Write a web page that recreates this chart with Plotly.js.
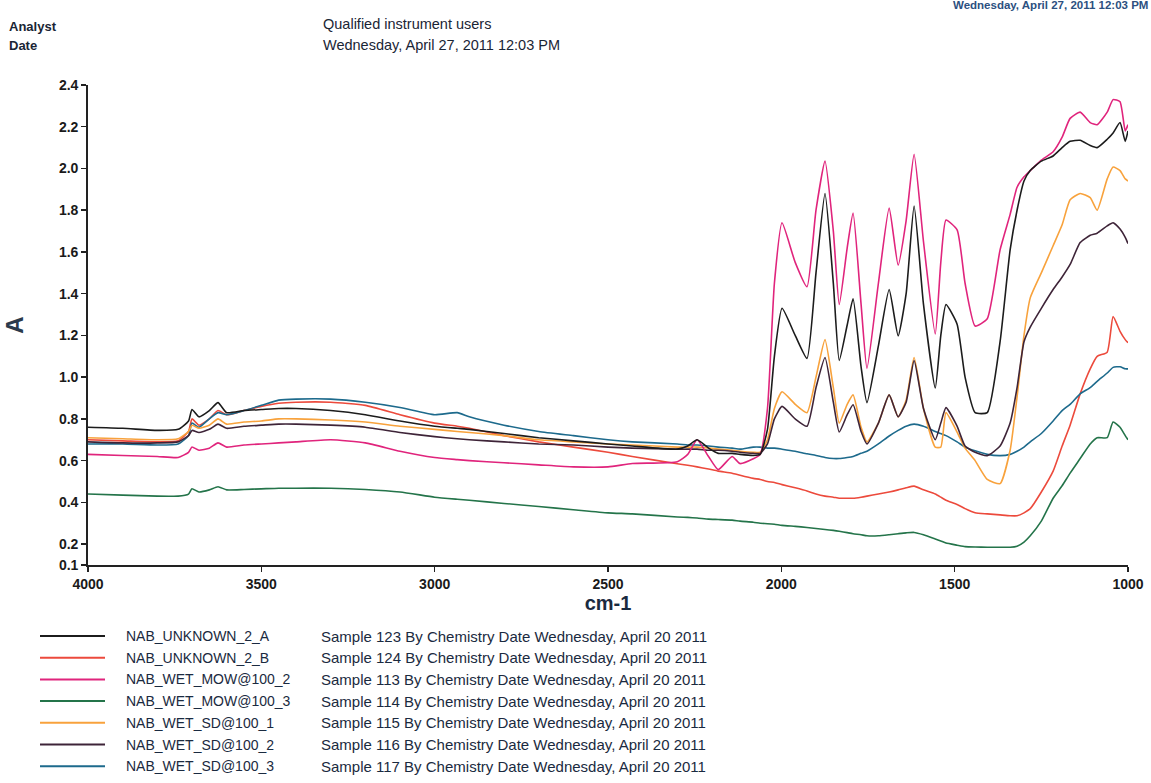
<!DOCTYPE html>
<html>
<head>
<meta charset="utf-8">
<script src="https://cdn.plot.ly/plotly-3.0.1.min.js"></script>
<style>
  html, body { margin: 0; padding: 0; background: #ffffff; }
  #chart { width: 1151px; height: 783px; }
</style>
</head>
<body>
<div id="chart"></div>
<script>
// ---- data ----
const wavenumber = [4000, 3900, 3800, 3740, 3710, 3700, 3680, 3650, 3625, 3600,
  3550, 3500, 3450, 3400, 3300, 3200, 3100, 3000, 2935, 2900,
  2800, 2700, 2600, 2500, 2430, 2300, 2270, 2243, 2210, 2182,
  2142, 2119, 2081, 2061, 2040, 2020, 1998, 1960, 1926, 1900,
  1874, 1850, 1833, 1810, 1793, 1770, 1753, 1720, 1689, 1663,
  1640, 1617, 1590, 1556, 1540, 1525, 1493, 1470, 1441, 1406,
  1369, 1340, 1320, 1300, 1282, 1250, 1216, 1190, 1167, 1138,
  1109, 1089, 1060, 1043, 1023, 1008, 1000];

const unknownA = [0.76, 0.755, 0.745, 0.75, 0.79, 0.845, 0.81, 0.84, 0.878, 0.83,
  0.84, 0.845, 0.85, 0.85, 0.84, 0.82, 0.79, 0.765, 0.755, 0.75,
  0.73, 0.71, 0.695, 0.68, 0.67, 0.655, 0.67, 0.70, 0.66, 0.635,
  0.635, 0.63, 0.625, 0.63, 0.75, 1.10, 1.33, 1.20, 1.09, 1.50,
  1.88, 1.45, 1.08, 1.25, 1.376, 1.05, 0.878, 1.15, 1.42, 1.198,
  1.40, 1.82, 1.35, 0.948, 1.20, 1.348, 1.254, 1.00, 0.83, 0.83,
  1.17, 1.61, 1.80, 1.94, 1.99, 2.035, 2.06, 2.10, 2.13, 2.135,
  2.11, 2.10, 2.14, 2.17, 2.22, 2.13, 2.18];

const unknownB = [0.70, 0.695, 0.69, 0.695, 0.74, 0.80, 0.77, 0.80, 0.84, 0.82,
  0.84, 0.86, 0.875, 0.88, 0.88, 0.865, 0.82, 0.78, 0.765, 0.755,
  0.72, 0.69, 0.665, 0.64, 0.62, 0.585, 0.578, 0.57, 0.56, 0.55,
  0.54, 0.53, 0.515, 0.51, 0.50, 0.495, 0.485, 0.47, 0.455, 0.44,
  0.43, 0.425, 0.42, 0.42, 0.42, 0.425, 0.43, 0.44, 0.45, 0.46,
  0.47, 0.478, 0.46, 0.44, 0.425, 0.41, 0.39, 0.37, 0.35, 0.345,
  0.34, 0.336, 0.336, 0.35, 0.37, 0.45, 0.55, 0.67, 0.77, 0.92,
  1.04, 1.10, 1.12, 1.29, 1.22, 1.18, 1.165];

const wetMow2 = [0.63, 0.625, 0.62, 0.615, 0.64, 0.665, 0.65, 0.66, 0.685, 0.665,
  0.675, 0.68, 0.685, 0.69, 0.70, 0.685, 0.645, 0.615, 0.605, 0.60,
  0.59, 0.58, 0.57, 0.57, 0.586, 0.595, 0.63, 0.70, 0.62, 0.557,
  0.62, 0.586, 0.609, 0.63, 0.85, 1.45, 1.74, 1.55, 1.433, 1.80,
  2.035, 1.70, 1.348, 1.62, 1.786, 1.35, 1.042, 1.45, 1.81, 1.536,
  1.75, 2.068, 1.65, 1.207, 1.55, 1.753, 1.706, 1.45, 1.245, 1.28,
  1.61, 1.78, 1.91, 1.96, 1.99, 2.04, 2.08, 2.15, 2.24, 2.27,
  2.22, 2.21, 2.27, 2.33, 2.32, 2.18, 2.21];

const wetMow3 = [0.44, 0.435, 0.43, 0.43, 0.44, 0.465, 0.45, 0.46, 0.475, 0.46,
  0.462, 0.465, 0.468, 0.468, 0.468, 0.462, 0.45, 0.425, 0.415, 0.41,
  0.395, 0.38, 0.365, 0.35, 0.345, 0.33, 0.328, 0.325, 0.32, 0.318,
  0.315, 0.31, 0.305, 0.30, 0.298, 0.295, 0.29, 0.285, 0.28, 0.275,
  0.27, 0.266, 0.262, 0.255, 0.25, 0.245, 0.24, 0.24, 0.245, 0.25,
  0.254, 0.256, 0.245, 0.225, 0.215, 0.205, 0.195, 0.188, 0.186, 0.185,
  0.185, 0.185, 0.19, 0.21, 0.24, 0.31, 0.42, 0.48, 0.54, 0.61,
  0.68, 0.71, 0.71, 0.785, 0.76, 0.72, 0.70];

const wetSd1 = [0.71, 0.705, 0.70, 0.705, 0.74, 0.77, 0.755, 0.77, 0.80, 0.775,
  0.785, 0.79, 0.80, 0.80, 0.795, 0.785, 0.765, 0.75, 0.74, 0.735,
  0.72, 0.70, 0.69, 0.68, 0.675, 0.665, 0.665, 0.665, 0.66, 0.655,
  0.65, 0.645, 0.64, 0.64, 0.70, 0.85, 0.93, 0.87, 0.83, 1.00,
  1.18, 0.95, 0.78, 0.87, 0.915, 0.76, 0.69, 0.78, 0.915, 0.81,
  0.89, 1.094, 0.85, 0.665, 0.665, 0.83, 0.737, 0.66, 0.60, 0.51,
  0.49, 0.65, 0.906, 1.20, 1.38, 1.50, 1.63, 1.73, 1.85, 1.88,
  1.86, 1.80, 1.95, 2.007, 1.99, 1.95, 1.94];

const wetSd2 = [0.69, 0.685, 0.685, 0.69, 0.72, 0.745, 0.735, 0.75, 0.775, 0.755,
  0.765, 0.77, 0.775, 0.775, 0.77, 0.76, 0.735, 0.715, 0.705, 0.70,
  0.69, 0.68, 0.675, 0.665, 0.66, 0.655, 0.655, 0.655, 0.65, 0.65,
  0.645, 0.64, 0.635, 0.635, 0.68, 0.80, 0.86, 0.80, 0.765, 0.95,
  1.094, 0.88, 0.737, 0.82, 0.868, 0.74, 0.68, 0.78, 0.915, 0.81,
  0.88, 1.08, 0.85, 0.70, 0.78, 0.854, 0.765, 0.67, 0.64, 0.624,
  0.67, 0.78, 0.95, 1.17, 1.24, 1.33, 1.42, 1.48, 1.54, 1.645,
  1.68, 1.69, 1.725, 1.74, 1.71, 1.67, 1.64];

const wetSd3 = [0.68, 0.68, 0.675, 0.68, 0.72, 0.78, 0.76, 0.80, 0.83, 0.82,
  0.84, 0.865, 0.89, 0.895, 0.895, 0.88, 0.855, 0.82, 0.83, 0.81,
  0.77, 0.74, 0.72, 0.70, 0.69, 0.68, 0.675, 0.675, 0.67, 0.665,
  0.66, 0.655, 0.665, 0.665, 0.66, 0.66, 0.655, 0.645, 0.633, 0.625,
  0.615, 0.61, 0.61, 0.615, 0.62, 0.635, 0.645, 0.68, 0.718, 0.745,
  0.765, 0.775, 0.765, 0.74, 0.73, 0.72, 0.69, 0.665, 0.647, 0.63,
  0.624, 0.63, 0.645, 0.665, 0.69, 0.73, 0.79, 0.84, 0.87, 0.92,
  0.95, 0.98, 1.02, 1.047, 1.05, 1.04, 1.04];

const seriesNames = ["NAB_UNKNOWN_2_A", "NAB_UNKNOWN_2_B", "NAB_WET_MOW@100_2",
  "NAB_WET_MOW@100_3", "NAB_WET_SD@100_1", "NAB_WET_SD@100_2", "NAB_WET_SD@100_3"];
const sampleNumbers = [123, 124, 113, 114, 115, 116, 117];
const seriesValues = [unknownA, unknownB, wetMow2, wetMow3, wetSd1, wetSd2, wetSd3];
const seriesColors = ["#1c1c1c", "#ec4a3c", "#e0247c", "#24744a", "#f8a23c", "#3e2438", "#1d6a8c"];
const drawOrder = [3, 1, 6, 4, 5, 2, 0];

const yTickVals = [0.1, 0.2, 0.4, 0.6, 0.8, 1.0, 1.2, 1.4, 1.6, 1.8, 2.0, 2.2, 2.4];
const yTickText = ["0.1", "0.2", "0.4", "0.6", "0.8", "1.0", "1.2", "1.4", "1.6", "1.8", "2.0", "2.2", "2.4"];
const xTickVals = [4000, 3500, 3000, 2500, 2000, 1500, 1000];

// ---- geometry helpers (page pixels -> paper coords) ----
const W = 1151, H = 783;
const M = { l: 88, r: 23, t: 85, b: 218 };
const PW = W - M.l - M.r, PH = H - M.t - M.b;
const px = x => (x - M.l) / PW;
const py = y => (H - M.b - y) / PH;

const sans = "Liberation Sans, Arial, sans-serif";

const traces = drawOrder.map(i => ({
  type: "scatter",
  mode: "lines",
  x: wavenumber,
  y: seriesValues[i],
  name: seriesNames[i],
  line: { color: seriesColors[i], width: 1.6, shape: "spline", smoothing: 0.5 },
  hoverinfo: "skip"
}));

const shapes = [];
const annotations = [];
seriesNames.forEach((nm, i) => {
  const yy = 636 + i * 21.7;
  shapes.push({ type: "line", xref: "paper", yref: "paper",
    x0: px(40), x1: px(105), y0: py(yy), y1: py(yy),
    line: { color: seriesColors[i], width: 2 } });
  annotations.push({ xref: "paper", yref: "paper", x: px(124), y: py(yy),
    xanchor: "left", yanchor: "middle", showarrow: false, text: nm,
    font: { family: sans, size: 14, color: "#1a2a40" } });
  annotations.push({ xref: "paper", yref: "paper", x: px(319), y: py(yy),
    xanchor: "left", yanchor: "middle", showarrow: false,
    text: "Sample " + sampleNumbers[i] + " By Chemistry Date Wednesday, April 20 2011",
    font: { family: sans, size: 15, color: "#1a2a40" } });
});

const header = [
  { x: 7, y: 27, text: "<b>Analyst</b>", size: 13, color: "#1a2535" },
  { x: 7, y: 45, text: "<b>Date</b>", size: 13, color: "#1a2535" },
  { x: 321, y: 24, text: "Qualified instrument users", size: 14.5, color: "#1a2535" },
  { x: 321, y: 45, text: "Wednesday, April 27, 2011 12:03 PM", size: 14.5, color: "#1a2535" }
];
header.forEach(h => annotations.push({ xref: "paper", yref: "paper", x: px(h.x), y: py(h.y),
  xanchor: "left", yanchor: "middle", showarrow: false, text: h.text,
  font: { family: sans, size: h.size, color: h.color } }));
annotations.push({ xref: "paper", yref: "paper", x: px(1150), y: py(5),
  xanchor: "right", yanchor: "middle", showarrow: false,
  text: "<b>Wednesday, April 27, 2011 12:03 PM</b>",
  font: { family: sans, size: 11.5, color: "#2c5080" } });

const layout = {
  width: W, height: H,
  margin: M,
  paper_bgcolor: "#ffffff", plot_bgcolor: "#ffffff",
  showlegend: false,
  xaxis: {
    range: [4000, 1000],
    tickvals: xTickVals,
    ticks: "outside", ticklen: 5, tickwidth: 1.5, tickcolor: "#222",
    showline: true, linecolor: "#222", linewidth: 1.8,
    showgrid: false, zeroline: false,
    tickfont: { family: sans, size: 14, color: "#1a1a1a", weight: "bold" },
    title: { text: "cm-1", standoff: 4, font: { family: sans, size: 20, color: "#1a2a40", weight: "bold" } }
  },
  yaxis: {
    range: [0.1, 2.4],
    tickvals: yTickVals, ticktext: yTickText,
    ticks: "outside", ticklen: 5, tickwidth: 1.5, tickcolor: "#222",
    showline: true, linecolor: "#222", linewidth: 1.8,
    showgrid: false, zeroline: false,
    tickfont: { family: sans, size: 14, color: "#1a1a1a", weight: "bold" },
    title: { text: "A", standoff: 28, font: { family: sans, size: 24, color: "#2a3a4c", weight: "bold" } }
  },
  shapes: shapes,
  annotations: annotations
};

Plotly.newPlot("chart", traces, layout, { staticPlot: true, displayModeBar: false });
</script>
</body>
</html>
